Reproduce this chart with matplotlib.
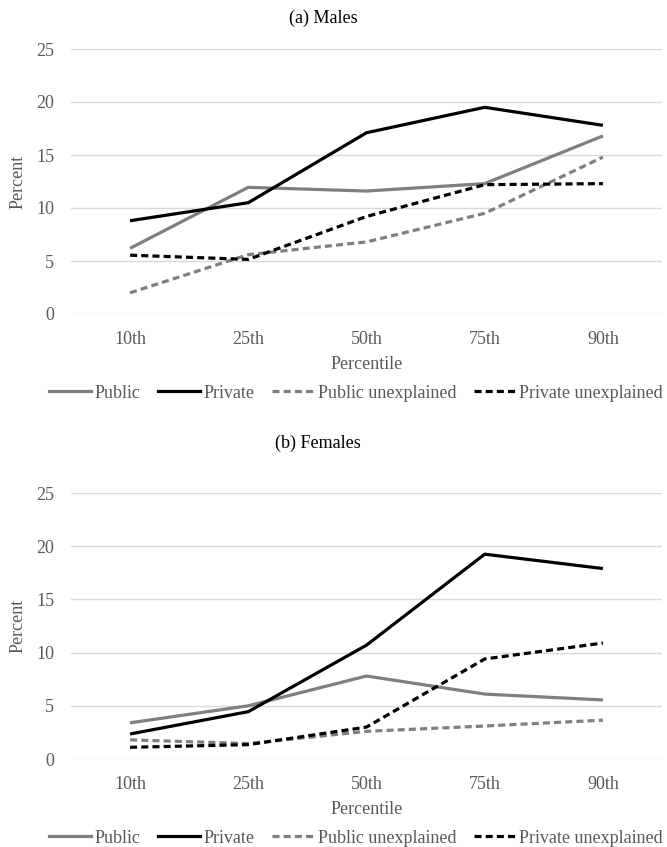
import matplotlib
matplotlib.use("Agg")
import matplotlib.pyplot as plt
from matplotlib.lines import Line2D

plt.rcParams['font.family'] = ['Liberation Serif', 'DejaVu Serif']

# data
percentiles = ['10th', '25th', '50th', '75th', '90th']

males_public = [6.2, 11.95, 11.6, 12.3, 16.8]
males_private = [8.8, 10.5, 17.1, 19.5, 17.8]
males_public_unexpl = [2.0, 5.6, 6.8, 9.5, 14.8]
males_private_unexpl = [5.55, 5.15, 9.2, 12.2, 12.3]

females_public = [3.4, 5.0, 7.8, 6.1, 5.55]
females_private = [2.35, 4.45, 10.7, 19.25, 17.9]
females_public_unexpl = [1.8, 1.45, 2.6, 3.1, 3.65]
females_private_unexpl = [1.1, 1.35, 3.0, 9.4, 10.9]

series_names = ['Public', 'Private', 'Public unexplained', 'Private unexplained']
GRAY = '#7f7f7f'
styles = [(GRAY, '-'), ('black', '-'), (GRAY, (0, (2.2, 1.3))), ('black', (0, (2.2, 1.3)))]

W, H = 667, 847
fig = plt.figure(figsize=(W / 100, H / 100), dpi=100)


def px_axes(left, top, right, bottom):
    return fig.add_axes([left / W, 1 - bottom / H, (right - left) / W, (bottom - top) / H])


def draw_panel(ax, data):
    x = range(len(percentiles))
    for vals, (col, ls) in zip(data, styles):
        ax.plot(x, vals, color=col, linestyle=ls, linewidth=2.3, solid_capstyle='butt')
    ax.set_xlim(-0.5, len(percentiles) - 0.5)
    ax.set_ylim(0, 25)
    ax.set_yticks([0, 5, 10, 15, 20, 25])
    ax.set_xticks(list(x))
    ax.set_xticklabels(percentiles)
    ax.grid(axis='y', color='#d9d9d9', linewidth=1)
    ax.set_axisbelow(True)
    for s in ax.spines.values():
        s.set_visible(False)
    ax.tick_params(length=0, labelsize=13, labelcolor='#595959')
    ax.tick_params(axis='x', pad=12)
    ax.tick_params(axis='y', pad=12)
    ax.set_xlabel('Percentile', fontsize=13, color='#595959', labelpad=6)
    ax.set_ylabel('Percent', fontsize=13, color='#595959', labelpad=7)


ax1 = px_axes(71, 49, 662, 314)
draw_panel(ax1, [males_public, males_private, males_public_unexpl, males_private_unexpl])
ax2 = px_axes(71, 493, 662, 759)
draw_panel(ax2, [females_public, females_private, females_public_unexpl, females_private_unexpl])

fig.text(323 / W, 1 - 18 / H, '(a) Males', ha='center', va='center', fontsize=13)
fig.text(318 / W, 1 - 443 / H, '(b) Females', ha='center', va='center', fontsize=13)

handles = [Line2D([], [], color=c, linestyle=ls, linewidth=2.3) for c, ls in styles]
for ypix in (393, 838):
    fig.legend(handles, series_names, loc='center', bbox_to_anchor=(356 / W, 1 - ypix / H),
               ncol=4, frameon=False, fontsize=13, handlelength=2.3, handletextpad=0.2,
               columnspacing=1.0, labelcolor='#595959', borderpad=0)

fig.savefig('out.png', dpi=100)
